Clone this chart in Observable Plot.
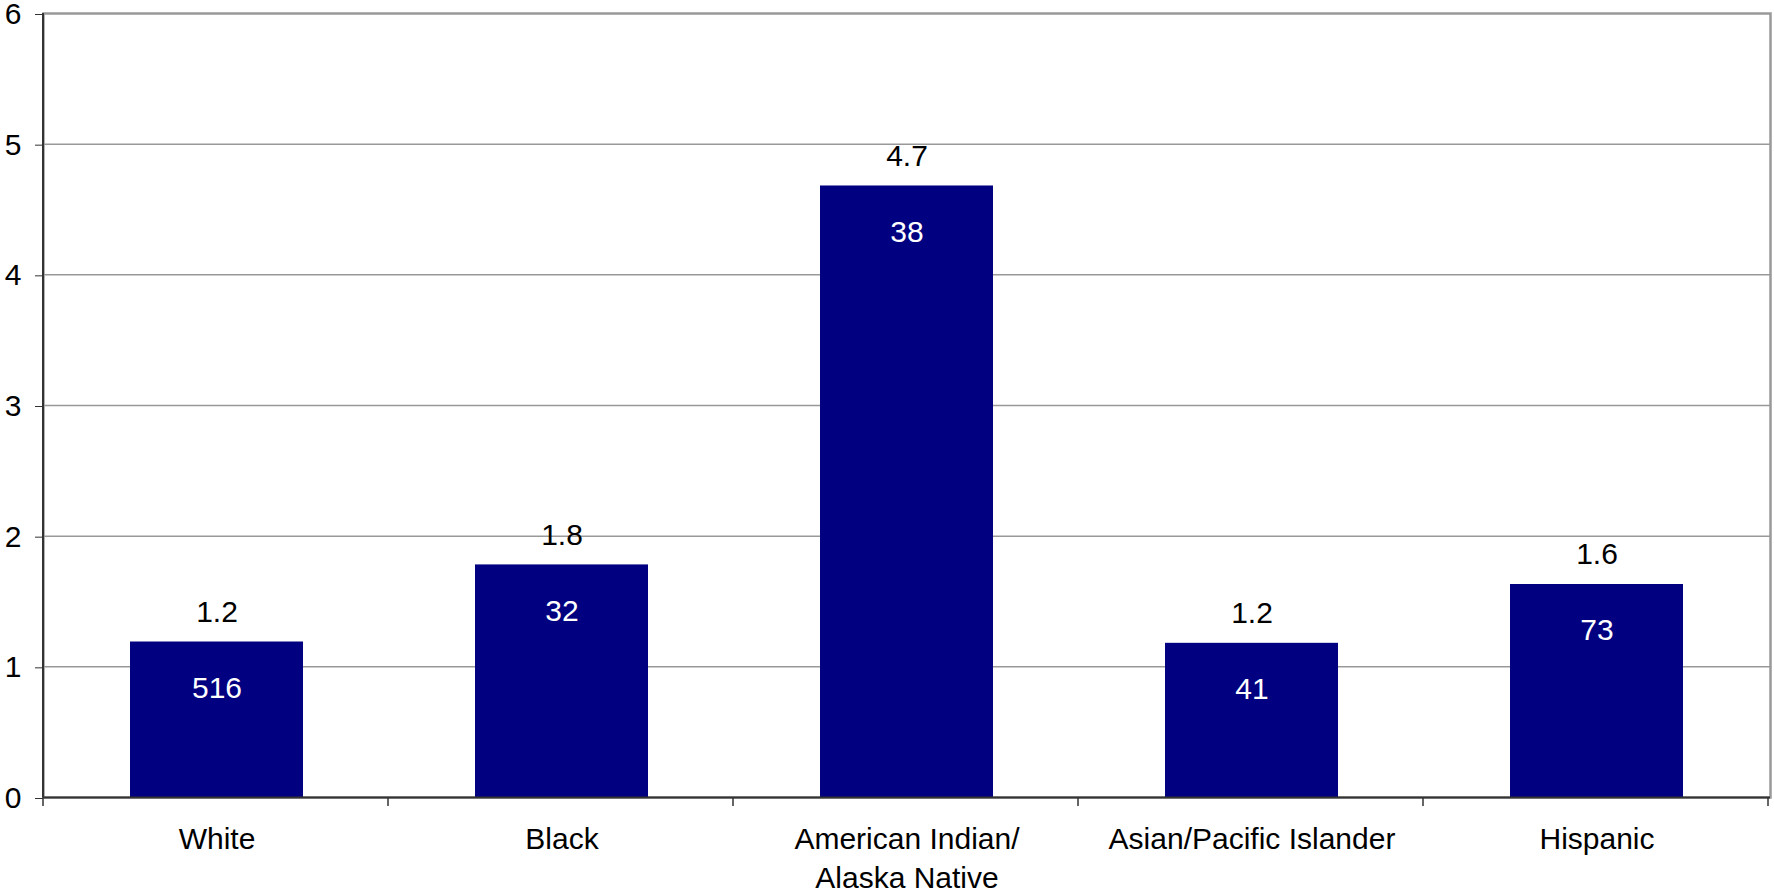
<!DOCTYPE html>
<html><head><meta charset="utf-8">
<script src="https://cdn.jsdelivr.net/npm/d3@7"></script>
<script src="https://cdn.jsdelivr.net/npm/@observablehq/plot@0.6"></script>
<style>body{margin:0;background:#fff;} svg{display:block;}</style>
</head><body><div id="chart"></div>
<script>
const categories = ["White", "Black", "American Indian/\nAlaska Native", "Asian/Pacific Islander", "Hispanic"];
const rates = [1.19, 1.78, 4.68, 1.18, 1.63];
const rateLabels = ["1.2", "1.8", "4.7", "1.2", "1.6"];
const counts = ["516", "32", "38", "41", "73"];
const yTicks = [0, 1, 2, 3, 4, 5, 6];

const data = categories.map((c, i) => ({category: c, rate: rates[i], label: rateLabels[i], count: counts[i]}));

const bandEdges = Plot.ruleX(categories, {
  x: d => d,
  render(index, scales, values, dimensions) {
    const xs = Array.from(index, i => values.x[i]);
    const step = xs[1] - xs[0];
    const left = dimensions.marginLeft;
    const y0 = dimensions.height - dimensions.marginBottom;
    const bounds = d3.range(xs.length + 1).map(k => left + k * step);
    const g = d3.create("svg:g");
    g.selectAll("line.t").data(bounds).join("line")
      .attr("x1", d => d).attr("x2", d => d)
      .attr("y1", y0).attr("y2", y0 + 9)
      .attr("stroke", "#333").attr("stroke-width", 1.5);
    g.append("line")
      .attr("x1", left).attr("x2", left)
      .attr("y1", dimensions.marginTop).attr("y2", y0)
      .attr("stroke", "#333").attr("stroke-width", 2);
    return g.node();
  }
});

const chart = Plot.plot({
  width: 1774,
  height: 894,
  marginLeft: 43,
  marginRight: 4,
  marginTop: 13,
  marginBottom: 97,
  style: {fontFamily: "'Liberation Sans', Arial, sans-serif", background: "#fff", color: "#000", overflow: "visible"},
  x: {domain: categories, paddingInner: 0.5, paddingOuter: 0.25, label: null},
  y: {domain: [0, 6], label: null},
  marks: [
    Plot.ruleY(yTicks.filter(d => d > 0 && d < 6), {stroke: "#999", strokeWidth: 1.5}),
    Plot.frame({stroke: "#999", strokeWidth: 2.5}),
    Plot.barY(data, {x: "category", y: "rate", fill: "#000080"}),
    Plot.ruleY([0], {stroke: "#333", strokeWidth: 2}),
    bandEdges,
    Plot.axisY(yTicks, {tickSize: 8, tickPadding: 14, fontSize: 30, stroke: "#333", label: null, tickFormat: d => String(d), dy: 1}),
    Plot.axisX({tickSize: 0, tickPadding: 24, fontSize: 30, lineHeight: 1.3, label: null}),
    Plot.text(data, {x: "category", y: "rate", text: "label", dy: -30, fontSize: 30, fill: "#000"}),
    Plot.text(data, {x: "category", y: "rate", text: "count", dy: 46, fontSize: 30, fill: "#fff"})
  ]
});
document.getElementById("chart").appendChild(chart);
</script>
</body></html>
